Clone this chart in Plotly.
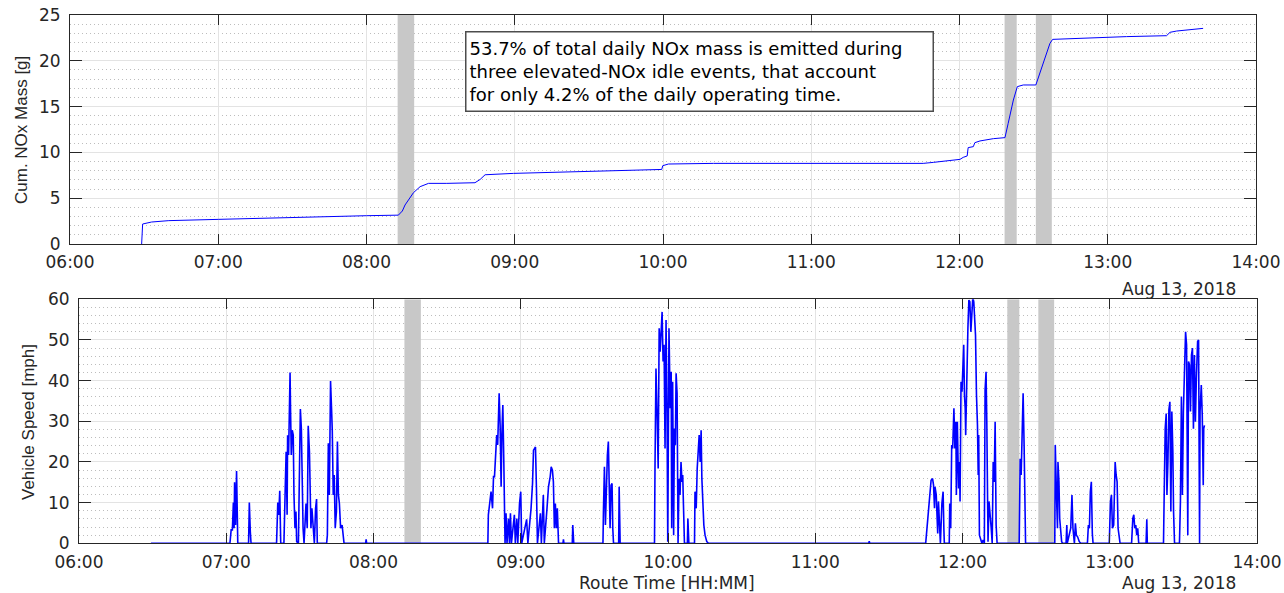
import pandas as pd
import plotly.graph_objects as go

DAY = "2018-08-13 06:00"

# Cumulative NOx mass: minutes after 06:00 and grams
nox_min = [29.0, 29.4, 33, 40, 60, 85, 100, 120, 132.9, 134.5, 135.6, 137.5, 139.0, 141.7,
           145.1, 152.5, 163.9, 166.0, 168.0, 179.5, 206.4, 239.5, 239.9, 242.2, 260.4,
           345.3, 349.4, 360.2, 361.5, 363.1, 363.5, 365.6, 366.2, 368.3, 373.7, 378.4,
           379.7, 381.8, 383.4, 385.8, 390.9, 392.5, 394.6, 396.6, 397.7, 407.4, 427.6,
           443.8, 445.2, 447.9, 458.6]
nox_g = [0, 2.18, 2.4, 2.55, 2.69, 2.88, 2.98, 3.09, 3.15, 3.6, 4.26, 5.0, 5.6, 6.26,
         6.62, 6.62, 6.69, 7.05, 7.56, 7.71, 7.89, 8.14, 8.55, 8.73, 8.80,
         8.80, 8.91, 9.24, 9.46, 9.61, 10.52, 10.63, 11.06, 11.25, 11.5, 11.61,
         13.17, 15.72, 17.18, 17.36, 17.36, 18.63, 20.45, 21.9, 22.34, 22.45, 22.64,
         22.74, 23.11, 23.25, 23.54]

# Vehicle speed: minutes after 06:00 and mph
spd_min = [29.3,
           61.5, 62.0, 62.5, 62.9, 63.2, 63.4, 63.8, 64.2, 64.7,
           69.1, 69.4, 69.8, 70.1,
           80.5, 81.0, 81.4, 81.8, 82.2,
           83.5, 84.0, 84.4, 84.8, 85.0, 85.4, 85.7, 86.0, 86.2, 86.5, 86.9, 87.3, 87.6, 88.0,
           88.4, 88.7, 89.4, 89.8, 90.2, 90.6, 90.9, 91.3, 91.7, 92.5, 93.0, 93.4, 93.9, 94.1,
           94.5, 94.9, 95.3, 95.9, 96.4, 96.8, 97.1,
           100.9, 101.2, 101.6, 102.0, 102.5, 102.9, 103.2, 103.6, 104.0, 104.4, 104.9, 105.3,
           105.7, 106.1, 106.6, 107.2, 107.6, 108.0,
           116.8, 117.0, 117.2,
           166.6, 166.8, 167.5, 167.9, 168.5, 168.9, 169.3, 169.8, 170.2, 170.6, 170.9, 171.2,
           171.6, 172.0, 172.3, 172.7, 173.1, 173.4, 173.6, 174.0, 174.4, 175.0, 175.4, 175.8,
           176.2, 177.4, 177.8, 178.4, 178.8, 179.5, 180.0, 180.4, 182.4, 182.9, 184.2, 184.8,
           185.2, 185.6, 186.0, 186.4, 186.8, 188.0, 188.4, 189.2, 189.6, 190.7, 191.3, 192.0,
           192.4, 192.9, 193.3, 193.7, 194.1, 194.5, 194.9, 195.4, 197.2, 197.4, 197.6, 201.0,
           201.2, 201.6,
           213.5, 213.7, 214.1, 214.5, 214.9, 215.3, 215.7, 216.0, 216.4, 216.8, 217.2, 217.5,
           217.8, 219.9, 220.1, 220.5,
           234.5, 234.7, 235.1, 235.6, 236.0, 236.4, 236.8, 237.2, 237.6, 238.0, 238.4, 238.8,
           239.2, 239.6, 239.9, 240.4, 240.9, 241.3, 241.5, 241.9, 242.3, 242.6, 243.0, 243.3,
           243.7, 244.1, 244.5, 244.9, 245.3, 245.7, 246.0, 246.3, 246.7, 247.9, 248.1, 248.5,
           250.8, 251.0, 251.5, 251.9, 252.3, 252.7, 253.1, 253.5, 253.8, 254.2, 254.6, 255.1,
           255.8, 256.5,
           321.8, 322.0, 322.2,
           345.0, 345.5, 345.9, 346.4, 346.8, 347.2, 347.8, 348.2, 348.6, 348.8, 349.3, 349.7,
           349.9, 350.2, 350.6, 351.0, 351.6, 352.1, 352.4, 352.6, 354.6, 354.8, 355.2, 355.6,
           356.0, 356.5, 356.9, 357.3, 357.5, 357.9, 358.4, 358.8, 359.0, 359.4, 359.8, 360.3,
           360.5, 360.8, 361.1, 361.3, 361.7, 362.2, 362.6, 363.0, 363.4, 363.8, 364.2, 364.6,
           365.0, 365.3, 365.7, 366.1, 366.4, 366.6, 366.9, 367.3, 367.9, 368.4, 368.9, 369.2,
           369.6, 369.9, 370.2, 370.4, 370.8, 371.2, 371.7, 372.1, 372.5, 372.9, 373.3, 373.7,
           374.1,
           383.1, 383.5, 383.9, 384.3, 384.7, 385.1, 385.4, 385.7,
           397.6, 397.8, 398.3, 398.7, 398.9, 399.3, 399.6, 400.0, 400.4, 400.8, 402.2, 402.5,
           402.7, 404.1, 404.6, 405.0, 405.6, 406.0, 406.4, 406.9, 407.6, 408.2, 410.9, 411.3,
           411.7, 412.1, 412.5, 412.9, 413.2, 419.8, 420.3, 420.7, 421.1, 421.6, 422.2, 422.6,
           423.0, 423.4, 423.8, 424.2, 428.9, 429.4, 429.8, 430.2, 430.6, 431.0, 431.4, 431.8,
           434.8, 435.1, 435.3,
           441.9, 442.2, 442.6, 443.0, 443.3, 443.7, 444.1, 444.5, 444.9, 445.3, 445.7, 446.0,
           446.4, 448.4, 448.8, 449.2, 449.6, 450.0, 450.5, 450.9, 451.3, 451.5, 451.8, 452.1,
           452.5, 452.9, 453.3, 453.7, 454.1, 454.5, 454.9, 455.3, 455.8, 456.2, 456.6, 456.8,
           457.3, 457.7, 458.1, 458.3, 458.6]
spd_mph = [0,
           0, 3.3, 3.3, 10, 3.7, 15, 4.5, 17.8, 0,
           0, 10, 2.9, 0,
           0, 10, 7, 12.9, 0,
           0, 12.7, 22.5, 7, 26.6, 21.7, 37, 42, 32.8, 21.7, 27.8, 26.6, 11.9, 3.7,
           7.8, 0.4, 0, 11.9, 33, 28.2, 14.3, 3.7, 0, 9.8, 3.7, 28.9, 22.5, 11.9,
           3.7, 8.6, 5.3, 0, 8.6, 10.9, 0,
           0, 2, 24.6, 11.9, 39.9, 33.2, 27.8, 11.9, 16.8, 3.7, 7.8, 25,
           11.9, 9.8, 3.7, 4.5, 2, 0,
           0, 1, 0,
           0, 7, 10.3, 12.7, 8.6, 16.4, 16.4, 22.9, 26.6, 24.2, 34, 36.9,
           28.9, 13.9, 26.6, 34, 20, 8.6, 0, 7.4, 0, 6.1, 0, 7.4,
           0, 7, 0, 6.1, 0, 9.8, 12.7, 0, 5.9, 0, 8.6, 14.7,
           22.9, 23.3, 23.7, 13.5, 0, 7.4, 0, 11.9, 0, 8.6, 13.9, 16.4,
           18.8, 18, 15.1, 3.7, 9.8, 3.7, 8.6, 0, 0, 1, 0, 0,
           4.5, 0,
           0, 8.2, 18.8, 4.5, 16.8, 21.7, 25, 11.9, 3.7, 14.3, 14.7, 3.7,
           0, 0, 13.9, 0,
           0, 18.4, 43, 30.7, 18.4, 52.9, 47.1, 52, 56.9, 44.7, 48.8, 23.3,
           54.9, 32.4, 0.4, 52.9, 33.2, 42.2, 3.7, 39.7, 2, 28.2, 24.2, 41.8,
           36.9, 0, 15.9, 11.9, 20, 15.1, 16.8, 9.4, 0, 0, 6.1, 0,
           0, 12.7, 8.6, 18.4, 24.2, 26.6, 20, 27.8, 15.9, 7.8, 4.5, 2,
           0.4, 0,
           0, 0.5, 0,
           0, 3.7, 7.8, 10.3, 14.3, 15.5, 15.9, 14.3, 8.6, 13.9, 11.9, 5.3,
           2.4, 10.3, 2, 0, 9.8, 12.7, 3.7, 0, 0, 9.8, 3.7, 24.2,
           23.3, 33.2, 23.3, 29.9, 11.9, 29.9, 13.5, 20, 10.3, 39.7, 37.3, 47.1,
           48.8, 36.4, 33.2, 26.6, 43, 52.9, 59.8, 59.4, 52, 55.3, 60.5, 59.4,
           56.1, 51.2, 36.4, 29.1, 16.8, 26.6, 2, 1.2, 0, 0.8, 0, 37.7,
           42.2, 29.9, 16, 0.4, 10.3, 7.8, 3.7, 0, 20, 15.1, 29.9, 4.5,
           0,
           0, 20.8, 16.8, 26.6, 36.9, 24.2, 9, 0,
           0, 24.2, 11.9, 3.7, 20, 15.1, 6.1, 3.7, 0.4, 0, 0, 4.5,
           0, 3.7, 11.9, 3.7, 0, 4.9, 2, 1.6, 0.4, 0, 0, 4.5,
           3.7, 12.7, 15.1, 2.4, 0, 0, 10.3, 11.9, 3.7, 4.5, 20, 16.8,
           15.1, 3.7, 1.2, 0, 0, 6.1, 7, 3.7, 4.5, 2, 3.7, 0,
           0, 5.9, 0,
           0, 12.7, 28.2, 31.9, 11.9, 20, 32.8, 34.8, 7.8, 32.4, 22.9, 7.8,
           0, 0, 10.3, 36.1, 11.9, 32.4, 45.5, 52, 48.8, 11.9, 2, 44.7,
           43.9, 32.4, 46.3, 48, 28.2, 46.3, 29.9, 40.6, 49.6, 50, 0, 32.4,
           38.9, 31.5, 14.3, 28.2, 29]

# Elevated-NOx idle events (minutes after 06:00)
idle_start = [132.6, 378.25, 390.9]
idle_end = [139.3, 383.15, 397.35]

# Axis limits
nox_ylim = [0, 25]
spd_ylim = [0, 60]

note_lines = ["53.7% of total daily NOx mass is emitted during",
              "three elevated-NOx idle events, that account",
              "for only 4.2% of the daily operating time."]

t0 = pd.Timestamp(DAY)


def to_time(mins):
    return [(t0 + pd.to_timedelta(int(round(m * 60)), unit="s")).strftime("%Y-%m-%d %H:%M:%S")
            for m in mins]


W, H = 1284, 593
px = lambda v: v / W
py = lambda v: 1 - v / H

fig = go.Figure()

# idle-event bands (filled polygons above the grid, below the data)
for (xa, ya, ylim) in (("x", "y", nox_ylim), ("x2", "y2", spd_ylim)):
    bx, by = [], []
    for s, e in zip(idle_start, idle_end):
        bx += to_time([s, e, e, s, s]) + [None]
        by += [ylim[0], ylim[0], ylim[1], ylim[1], ylim[0], None]
    fig.add_trace(go.Scatter(x=bx, y=by, mode="lines", fill="toself",
                             fillcolor="#c8c8c8", line=dict(width=0, color="#c8c8c8"),
                             xaxis=xa, yaxis=ya, showlegend=False, hoverinfo="skip"))

fig.add_trace(go.Scatter(x=to_time(nox_min), y=nox_g, mode="lines",
                         line=dict(color="#0000ff", width=1), xaxis="x", yaxis="y",
                         showlegend=False))
fig.add_trace(go.Scatter(x=to_time(spd_min), y=spd_mph, mode="lines",
                         line=dict(color="#0000ff", width=1.6), xaxis="x2", yaxis="y2",
                         showlegend=False))

axc = "#262626"
grid = "#e3e3e3"
mgrid = "#bdbdbd"
hfont = dict(family="DejaVu Sans", size=17, color=axc)
xr = [to_time([0])[0], to_time([480])[0]]


def xax(domain, anchor):
    return dict(type="date", range=xr, domain=domain, anchor=anchor, dtick=3600000,
                tickformat="%H:%M", showgrid=True, gridcolor=grid, gridwidth=1,
                showline=True, linecolor=axc, linewidth=1, mirror="ticks",
                ticks="inside", ticklen=10, tickcolor=axc, tickfont=hfont,
                zeroline=False, ticklabelstandoff=3, automargin=False)


def yax(domain, anchor, rng, dt, mdt):
    return dict(range=rng, domain=domain, anchor=anchor, dtick=dt, tick0=0,
                showgrid=True, gridcolor=grid, gridwidth=1,
                minor=dict(dtick=mdt, tick0=0, showgrid=True, gridcolor=mgrid,
                           griddash="1px,3px", gridwidth=1),
                showline=True, linecolor=axc, linewidth=1, mirror="ticks",
                ticks="inside", ticklen=12, tickcolor=axc, tickfont=hfont,
                zeroline=False, ticklabelstandoff=5, automargin=False)


fig.update_layout(
    width=W, height=H, margin=dict(l=0, r=0, t=0, b=0, pad=0, autoexpand=False),
    paper_bgcolor="white", plot_bgcolor="white",
    xaxis=xax([px(70), px(1256)], "y"),
    yaxis=yax([py(244), py(15)], "x", nox_ylim, 5, 1),
    xaxis2=xax([px(79), px(1257)], "y2"),
    yaxis2=yax([py(543.3), py(299.3)], "x2", spd_ylim, 10, 2),
)

fig.add_annotation(xref="paper", yref="paper", x=px(465), y=py(30.7), xanchor="left",
                   yanchor="top", text="<br>".join(note_lines), showarrow=False,
                   align="left", width=460, height=72, borderpad=3,
                   bordercolor="#4d4d4d", borderwidth=1.5, bgcolor="white",
                   font=dict(family="DejaVu Sans", size=18, color="black"))

tfont = dict(family="Liberation Sans", size=17, color=axc)
fig.add_annotation(xref="paper", yref="paper", x=px(21), y=py(130), text="Cum. NOx Mass [g]",
                   textangle=-90, showarrow=False, font=tfont, xanchor="center",
                   yanchor="middle")
fig.add_annotation(xref="paper", yref="paper", x=px(29), y=py(422), text="Vehicle Speed [mph]",
                   textangle=-90, showarrow=False, font=tfont, xanchor="center",
                   yanchor="middle")
fig.add_annotation(xref="paper", yref="paper", x=px(667), y=py(582.5), text="Route Time [HH:MM]",
                   showarrow=False, font=hfont, xanchor="center", yanchor="middle")
for yy in (289, 582.5):
    fig.add_annotation(xref="paper", yref="paper", x=px(1238), y=py(yy), xanchor="right",
                       yanchor="middle", text="Aug 13, 2018", showarrow=False, font=hfont)

fig.write_html("out.html")
